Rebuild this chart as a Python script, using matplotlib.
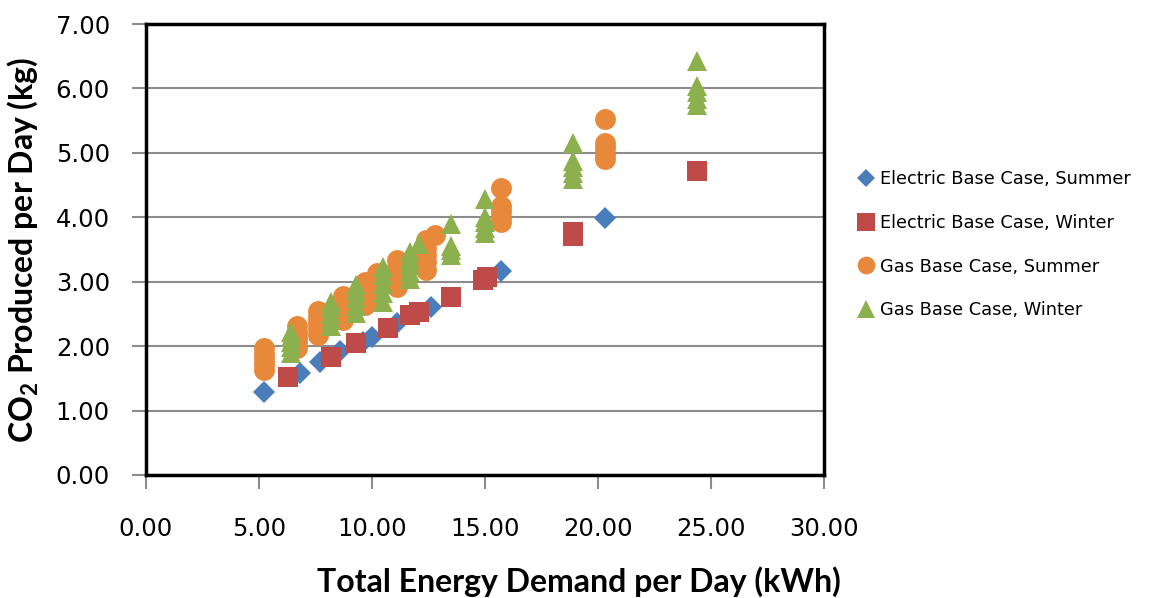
import numpy as np
import matplotlib.pyplot as plt

plt.rcParams['mathtext.fontset'] = 'custom'
plt.rcParams['mathtext.rm'] = 'Lato'
plt.rcParams['mathtext.bf'] = 'Lato:bold'

# Electric base case
es_x = [5.2, 6.8, 7.7, 8.6, 9.6, 10.0, 11.1, 12.0, 12.6, 15.7, 20.3]
es_y = [1.29, 1.58, 1.75, 1.93, 2.06, 2.14, 2.36, 2.52, 2.61, 3.16, 3.99]

ew_x = [6.3, 8.2, 9.3, 10.7, 11.7, 12.1, 13.5, 14.9, 15.1, 18.9, 18.9, 24.4]
ew_y = [1.52, 1.83, 2.05, 2.28, 2.48, 2.53, 2.77, 3.02, 3.07, 3.71, 3.77, 4.72]

# Gas base case (several runs per demand level)
gs_x = [5.2] * 5 + [6.7] * 5 + [7.6] * 5 + [8.7] * 5 + [9.7] * 5 + [10.2] * 5 \
    + [11.1] * 5 + [12.4] * 5 + [12.8] + [15.7] * 5 + [20.3] * 5
gs_y = [1.63, 1.72, 1.80, 1.88, 1.97,
        1.97, 2.06, 2.14, 2.22, 2.32,
        2.17, 2.27, 2.36, 2.45, 2.55,
        2.40, 2.50, 2.59, 2.68, 2.78,
        2.64, 2.73, 2.82, 2.91, 3.00,
        2.75, 2.85, 2.94, 3.03, 3.13,
        2.92, 3.03, 3.13, 3.23, 3.34,
        3.18, 3.30, 3.42, 3.53, 3.65,
        3.72,
        3.93, 4.01, 4.09, 4.17, 4.45,
        4.91, 4.99, 5.07, 5.15, 5.52]

gw_x = [6.4] * 5 + [8.2] * 5 + [9.3] * 5 + [10.5] * 5 + [11.7] * 5 + [12.1] \
    + [13.5] * 4 + [15.0] * 5 + [18.9] * 5 + [24.4] * 5
gw_y = [1.90, 1.98, 2.06, 2.14, 2.22,
        2.31, 2.40, 2.50, 2.60, 2.69,
        2.52, 2.63, 2.74, 2.85, 2.95,
        2.68, 2.82, 2.96, 3.10, 3.23,
        3.04, 3.15, 3.26, 3.36, 3.46,
        3.58,
        3.42, 3.49, 3.56, 3.90,
        3.75, 3.83, 3.92, 4.01, 4.28,
        4.60, 4.69, 4.78, 4.87, 5.16,
        5.75, 5.84, 5.94, 6.04, 6.43]

labels = ['Electric Base Case, Summer', 'Electric Base Case, Winter',
          'Gas Base Case, Summer', 'Gas Base Case, Winter']
x_ticks = [0, 5, 10, 15, 20, 25, 30]
y_ticks = [0, 1, 2, 3, 4, 5, 6, 7]

fig = plt.figure(figsize=(11.58, 5.98), dpi=100)
ax = fig.add_axes([146 / 1158, 123 / 598, 678 / 1158, 451 / 598])

ax.plot(es_x, es_y, 'D', color='#4A7EBB', ms=10.7, mew=0, label=labels[0], zorder=3)
ax.plot(ew_x, ew_y, 's', color='#BE4B48', ms=14.5, mew=0, label=labels[1], zorder=3)
ax.plot(gs_x, gs_y, 'o', color='#E8883A', ms=15, mew=0, label=labels[2], zorder=3)
ax.plot(gw_x, gw_y, '^', color='#8DB04F', ms=15, mew=0, label=labels[3], zorder=3)

ax.set_xlim(0, 30)
ax.set_ylim(0, 7)
ax.set_xticks(x_ticks)
ax.set_yticks(y_ticks)
ax.set_xticklabels(['%.2f' % v for v in x_ticks])
ax.set_yticklabels(['%.2f' % v for v in y_ticks])
ax.tick_params(axis='x', length=10, width=1.5, color='#8c8c8c', pad=20,
               labelsize=17.5)
ax.tick_params(axis='y', length=10, width=1.5, color='#8c8c8c', pad=16,
               labelsize=17.5)
ax.yaxis.grid(True, color='#8c8c8c', linewidth=1.5)
ax.set_axisbelow(True)
for s in ax.spines.values():
    s.set_linewidth(2.5)
    s.set_color('black')

ax.set_xlabel('Total Energy Demand per Day (kWh)', fontfamily='Lato',
              fontweight='bold', fontsize=23, va='bottom')
ax.xaxis.set_label_coords(0.5, 1 / 598, transform=fig.transFigure)
ax.set_ylabel(r'CO$_\mathbf{2}$ Produced per Day (kg)', fontfamily='Lato',
              fontweight='bold', fontsize=23)
ax.yaxis.set_label_coords(40 / 1158, 1 - 250 / 598, transform=fig.transFigure)

ax.legend(loc='upper left', bbox_to_anchor=(858 / 1158, 1 - 170 / 598),
          bbox_transform=fig.transFigure, frameon=False, fontsize=12.8,
          handlelength=0.9, handletextpad=0.35, labelspacing=1.45,
          markerscale=0.85, borderpad=0, borderaxespad=0)

fig.savefig('out.png', dpi=100)
